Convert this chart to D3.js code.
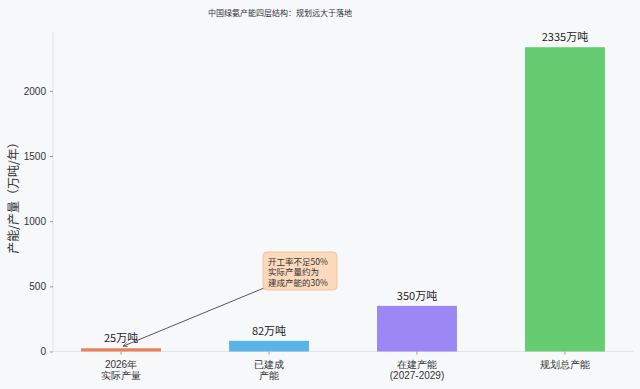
<!DOCTYPE html>
<html><head><meta charset="utf-8">
<script src="https://cdn.jsdelivr.net/npm/d3@7"></script>
<style>
html,body{margin:0;padding:0;background:#f7f8fa;}
svg{display:block;font-family:"Noto Sans CJK SC","Noto Sans",sans-serif;}
</style></head>
<body><svg id="c" width="640" height="389"></svg>
<script>
const categories = [["2026年","实际产量"],["已建成","产能"],["在建产能","(2027-2029)"],["规划总产能"]];
const values = [25, 82, 350, 2335];
const valueLabels = ["25万吨","82万吨","350万吨","2335万吨"];
const colors = ["#e8825a","#5ab4e5","#9b88f5","#66cc72"];
const yTicks = [0, 500, 1000, 1500, 2000];
const title = "中国绿氨产能四层结构：规划远大于落地";
const yLabel = "产能/产量（万吨/年）";
const noteLines = ["开工率不足50%","实际产量约为","建成产能的30%"];

const svg = d3.select("#c");
const L = 53, R = 633, T = 32, B = 351.5;
const x = d3.scaleBand().domain(d3.range(values.length)).range([L, R]).paddingInner(0.46).paddingOuter(0.19);
const y = d3.scaleLinear().domain([0, 2335*1.05]).range([B, T]);

// spines
svg.append("line").attr("x1",L).attr("x2",L).attr("y1",T).attr("y2",B).attr("stroke","#e2e4e8").attr("stroke-width",1);
svg.append("line").attr("x1",L).attr("x2",R).attr("y1",B).attr("y2",B).attr("stroke","#e2e4e8").attr("stroke-width",1);

// y axis
const ya = svg.append("g").attr("transform",`translate(${L},0)`)
  .call(d3.axisLeft(y).tickValues(yTicks).tickFormat(d3.format("d")).tickSize(3).tickPadding(4));
ya.select(".domain").remove();
ya.selectAll(".tick line").attr("stroke","#999");
ya.selectAll(".tick text").attr("fill","#333").style("font-size","10px");

// x axis
const xa = svg.append("g").attr("transform",`translate(0,${B})`)
  .call(d3.axisBottom(x).tickSize(3).tickFormat(""));
xa.select(".domain").remove();
xa.selectAll(".tick line").attr("stroke","#999");
xa.selectAll(".tick").each(function(d){
  const t = d3.select(this).append("text").attr("fill","#333").attr("text-anchor","middle").style("font-size","10px");
  categories[d].forEach((s,i)=>t.append("tspan").attr("x",0).attr("y",16+i*11).text(s));
});

// bars
svg.selectAll("rect.bar").data(values).join("rect").attr("class","bar")
  .attr("x",(d,i)=>x(i)).attr("width",x.bandwidth())
  .attr("y",d=>y(d)).attr("height",d=>B-y(d)).attr("fill",(d,i)=>colors[i]);

svg.selectAll("text.val").data(values).join("text").attr("class","val")
  .attr("x",(d,i)=>x(i)+x.bandwidth()/2).attr("y",d=>y(d)-6)
  .attr("text-anchor","middle").attr("fill","#222").style("font-size","11px")
  .text((d,i)=>valueLabels[i]);

// title
svg.append("text").attr("x",280).attr("y",16).attr("text-anchor","middle").attr("fill","#333")
  .style("font-size","8px").text(title);

// y label
svg.append("text").attr("transform","translate(18,195) rotate(-90)").attr("text-anchor","middle")
  .attr("fill","#333").style("font-size","12px").text(yLabel);

// annotation
const defs = svg.append("defs");
defs.append("marker").attr("id","ah").attr("viewBox","0 0 10 10").attr("refX",9).attr("refY",5)
  .attr("markerWidth",6).attr("markerHeight",6).attr("orient","auto")
  .append("path").attr("d","M0,1 L9,5 L0,9").attr("fill","none").attr("stroke","#444").attr("stroke-width",1.2);
const ax = x(0)+x.bandwidth()/2, ay = y(values[0]) - 2;
svg.append("line").attr("x1",264).attr("y1",288).attr("x2",ax+2).attr("y2",ay)
  .attr("stroke","#444").attr("stroke-width",0.9).attr("marker-end","url(#ah)");
svg.append("rect").attr("x",263).attr("y",252).attr("width",74).attr("height",38).attr("rx",4)
  .attr("fill","#fcd9bd").attr("stroke","#f2b98e").attr("stroke-width",0.8);
svg.selectAll("text.note").data(noteLines).join("text").attr("class","note")
  .attr("x",268).attr("y",(d,i)=>264.5+i*10.5).attr("fill","#333").style("font-size","8.5px")
  .text(d=>d);
</script></body></html>
